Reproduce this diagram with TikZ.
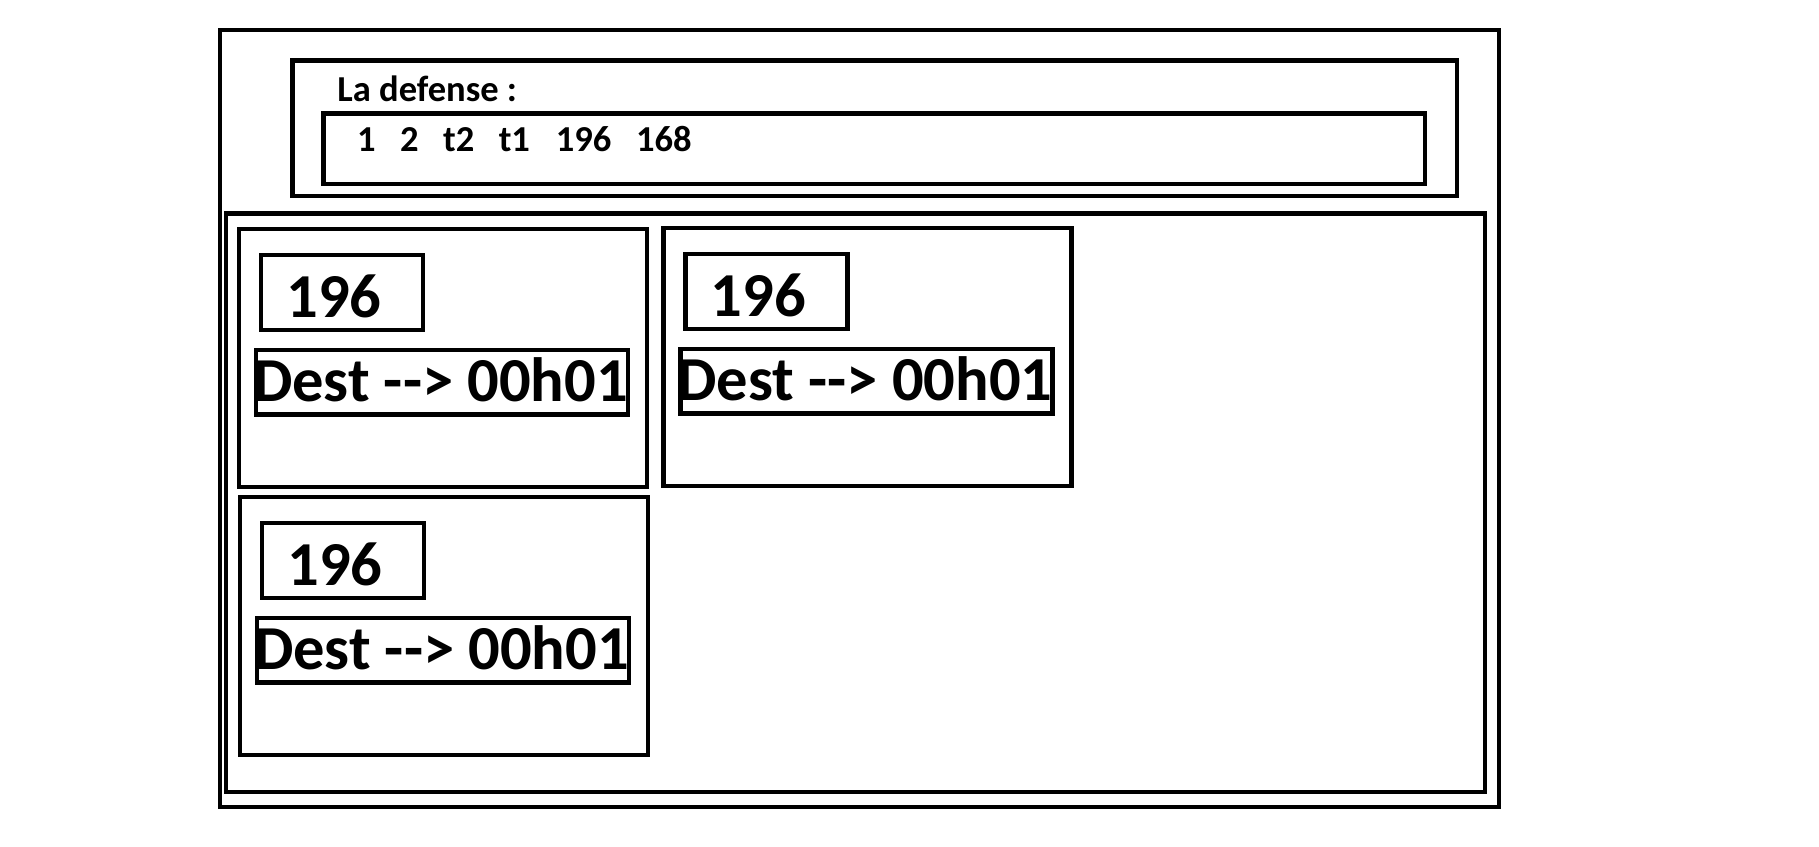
\documentclass[tikz,border=0pt]{standalone}
\usepackage{fontspec}
\newfontfamily\boardfont{Carlito}
\usetikzlibrary{positioning}

\tikzset{
  frame/.style={line width=2.8pt, black},
  bigtxt/.style={font=\boardfont\bfseries\fontsize{35.6}{40}\selectfont, inner sep=0pt, anchor=base},
  smalltxt/.style={font=\boardfont\bfseries\fontsize{20.8}{24}\selectfont, inner sep=0pt, anchor=base},
}

\begin{document}
\begin{tikzpicture}[x=0.02cm, y=-0.02cm]
    \useasboundingbox (0,0) rectangle (1819,846);
    % frames
    \draw[frame] (220,30) rectangle (1499,807);
    \draw[frame] (292.5,60.5) rectangle (1457,196);
    \draw[frame] (323.5,113.5) rectangle (1425,184);
    \draw[frame] (226,213.5) rectangle (1485,792);
    % header
    \node[smalltxt, anchor=base west] (station) at (337,101.7) {La defense :};
    \foreach \x/\lab [count=\i] in {366.4/1, 409.5/2, 458.7/t2, 514.4/t1, 583.7/196, 663.9/168}{
      \node[smalltxt] (line\i) at (\x,151.7) {\lab};
    }
    % departure cells
    \foreach \n/\x/\y in {a/239/229, b/663.5/228, c/240/497}{
      \draw[frame] (\x,\y) rectangle ++(408,258);
      \draw[frame] (\x+22,\y+26) rectangle (\x+184,\y+101);
      \draw[frame] (\x+17,\y+121) rectangle (\x+389,\y+185.5);
      \node[bigtxt] (num\n) at (\x+95,\y+88.5) {196};
      \node[bigtxt] (dest\n) at (\x+201.5,\y+172) {Dest --> 00h01};
    }
  \end{tikzpicture}
\end{document}
